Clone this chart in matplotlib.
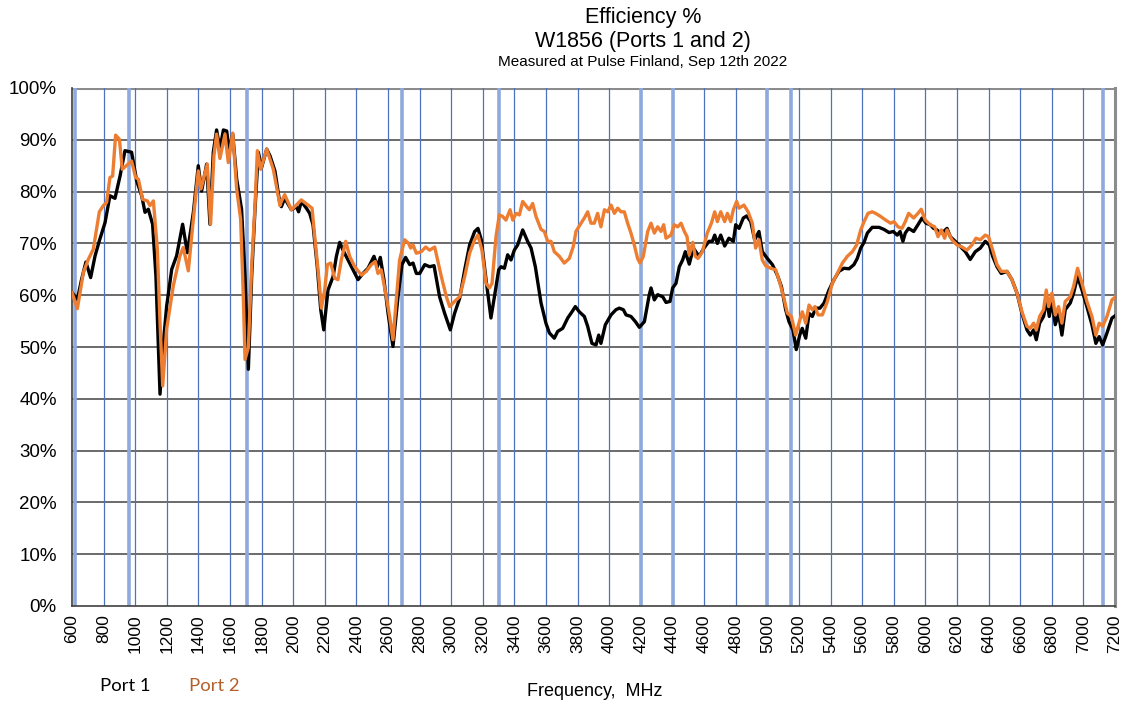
import matplotlib
matplotlib.use("Agg")
import matplotlib.pyplot as plt
import numpy as np

# ---- data ----
freq_port1 = [600, 634, 661, 688, 718, 746, 773, 809, 840, 872, 904, 935, 977, 1009, 1041, 1062, 1083, 1110,
              1131, 1157, 1178, 1199, 1231, 1262, 1300, 1330, 1368, 1399, 1420, 1452, 1473, 1494, 1515, 1536,
              1558, 1579, 1595, 1617, 1642, 1673, 1695, 1716, 1737, 1758, 1779, 1800, 1832, 1853, 1884, 1916,
              1925, 1946, 1988, 2020, 2034, 2051, 2083, 2104, 2125, 2152, 2174, 2193, 2220, 2252, 2273, 2294,
              2315, 2357, 2410, 2441, 2473, 2511, 2532, 2551, 2574, 2600, 2631, 2663, 2688, 2711, 2737, 2758,
              2779, 2800, 2832, 2863, 2891, 2926, 2958, 2994, 3021, 3053, 3085, 3116, 3148, 3169, 3190,
              3220, 3251, 3273, 3300, 3315, 3336, 3357, 3378, 3399, 3420, 3452, 3483, 3505, 3532, 3568, 3599,
              3621, 3652, 3673, 3705, 3737, 3764, 3785, 3810, 3842, 3863, 3890, 3916, 3933, 3947, 3975, 4011,
              4042, 4063, 4089, 4106, 4137, 4165, 4190, 4222, 4253, 4264, 4285, 4306, 4338, 4359, 4384, 4401,
              4422, 4443, 4464, 4481, 4506, 4532,
              4568, 4599, 4631, 4652, 4667, 4684, 4705, 4730, 4757, 4785, 4800, 4821, 4848, 4869, 4895, 4920,
              4947, 4968, 5000, 5032, 5063, 5089, 5116, 5137, 5162, 5183, 5205, 5221, 5243, 5264, 5285, 5306,
              5333, 5359, 5390, 5422, 5453, 5485, 5517, 5548, 5569, 5591, 5612, 5633, 5664, 5707, 5738, 5770,
              5797, 5822, 5840, 5858, 5873, 5894, 5926, 5953, 5979, 6004, 6031, 6052, 6073, 6095, 6116, 6137,
              6158, 6189, 6221, 6253, 6284, 6316, 6348, 6379, 6405, 6426, 6453, 6480, 6516, 6548, 6580, 6611,
              6643, 6664, 6685, 6702, 6723, 6748, 6769, 6784, 6801, 6822, 6843, 6864, 6885, 6917, 6938, 6963,
              6991, 7022, 7054, 7079, 7100, 7122, 7149, 7181, 7200]
eff_port1 = [60.5, 59.2, 63.1, 66.4, 63.4, 67.6, 70.5, 74.0, 79.2, 78.7, 83.0, 87.9, 87.6, 82.1, 79.2, 76.0, 76.6, 73.7,
             63.7, 40.9, 50.8, 57.9, 65.0, 67.6, 73.7, 68.2, 76.0, 85.0, 80.1, 85.3, 73.7, 87.6, 91.9, 88.2,
             91.9, 91.7, 87.6, 91.1, 82.4, 76.6, 63.7, 45.7, 63.7, 76.6, 87.6, 84.7, 88.2, 86.9, 84.0, 77.6,
             77.1, 78.7, 76.5, 77.1, 76.1, 78.1, 76.8, 75.8, 73.6, 65.5, 57.2, 53.3, 61.0, 63.6, 67.5, 70.2,
             68.7, 66.2, 63.0, 64.2, 65.2, 67.5, 65.5, 67.3, 63.0, 56.5, 50.1, 59.7, 65.9, 67.3, 65.9, 66.2,
             64.2, 64.2, 65.9, 65.5, 65.7, 59.7, 56.5, 53.3, 56.5, 59.4, 64.9, 69.7, 72.3, 72.9, 70.7,
             63.0, 55.6, 59.7, 64.9, 65.5, 65.2, 67.8, 66.8, 68.7, 69.7, 72.6, 70.4, 69.1, 65.5, 58.5, 54.6,
             52.7, 51.7, 53.0, 53.6, 55.6, 56.8, 57.8, 56.8, 55.9, 54.0, 50.7, 50.4, 52.3, 50.7, 54.3, 56.2,
             57.2, 57.5, 57.2, 56.2, 55.9, 54.9, 53.8, 54.9, 60.1, 61.4, 59.1, 60.1, 59.7, 58.6, 58.8, 61.4,
             62.3, 65.5, 66.8, 68.4, 66.0, 69.1,
             67.5, 69.1, 70.4, 70.4, 71.6, 70.0, 71.6, 69.5, 71.0, 70.4, 73.6, 72.9, 74.9, 75.3, 74.2, 70.7,
             72.3, 68.4, 67.1, 65.9, 63.9, 61.7, 57.2, 54.9, 53.3, 49.5, 52.3, 53.6, 51.7, 56.5, 55.9, 57.5,
             57.5, 58.5, 61.0, 63.0, 64.6, 65.2, 65.1, 65.9, 67.1, 69.1, 70.2, 72.0, 73.1, 73.1, 72.7, 72.1,
             72.3, 71.6, 72.3, 70.4, 72.0, 72.9, 72.3, 73.6, 74.9, 73.9, 73.6, 72.9, 72.6, 72.0, 72.3, 72.9,
             71.3, 70.4, 69.4, 68.4, 66.9, 68.4, 69.1, 70.4, 69.7, 67.5, 65.5, 64.2, 64.6, 63.0, 60.4, 56.5,
             53.3, 52.3, 53.3, 51.4, 54.6, 55.9, 59.1, 55.9, 58.8, 54.3, 56.5, 52.3, 57.2, 58.5, 60.4, 63.6,
             61.0, 57.8, 54.3, 50.7, 52.0, 50.4, 52.7, 55.6, 56.0]

freq_port2 = [600, 634, 672, 703, 735, 773, 798, 819, 840, 857, 876, 900, 918, 977, 1003, 1020, 1047, 1077, 1093,
              1115, 1140, 1157, 1174, 1199, 1241, 1283, 1304, 1336, 1368, 1399, 1416, 1456, 1477, 1498, 1515,
              1536, 1568, 1589, 1617, 1642, 1667, 1684, 1695, 1716, 1737, 1758, 1773, 1794, 1832, 1874, 1916,
              1925, 1946, 1988, 2020, 2051, 2094, 2119, 2136, 2161, 2178, 2199, 2216, 2237, 2262, 2283, 2304,
              2332, 2357, 2389, 2431, 2462, 2494, 2519, 2536, 2557, 2589, 2610, 2631, 2652, 2673, 2705, 2730,
              2743, 2758, 2779, 2810, 2838, 2863, 2895, 2937, 2969, 2990, 3021, 3053, 3085, 3116, 3148, 3169,
              3194,
              3220, 3241, 3258, 3283, 3304, 3325, 3346, 3372, 3389, 3410, 3431, 3452, 3477, 3494, 3515, 3536,
              3568, 3589, 3610, 3631, 3652, 3684, 3715, 3747, 3772, 3789, 3821, 3842, 3863, 3884, 3905, 3926,
              3947, 3969, 3990, 4011, 4032, 4053, 4074, 4095, 4116, 4137, 4158, 4179, 4194, 4215, 4243, 4264,
              4285, 4306, 4327, 4344, 4359, 4390, 4411, 4433, 4454, 4475, 4492, 4506, 4528, 4544, 4561,
              4589, 4620, 4646, 4667, 4684, 4705, 4730, 4747, 4768, 4785, 4806, 4821, 4852, 4878, 4905, 4926,
              4947, 4968, 4989, 5021, 5053, 5080, 5105, 5127, 5152, 5179, 5200, 5221, 5243, 5264, 5285, 5302,
              5321, 5348, 5380, 5411, 5443, 5475, 5506, 5538, 5565, 5591, 5612, 5637, 5664, 5685, 5717, 5749,
              5780, 5801, 5827, 5852, 5873, 5894, 5926, 5953, 5974, 5999, 6031, 6059, 6080, 6101, 6122, 6137,
              6168, 6200, 6232, 6263, 6295, 6320, 6348, 6379, 6400, 6426, 6453, 6480, 6516, 6548, 6580, 6611,
              6643, 6664, 6685, 6702, 6723, 6748, 6765, 6780, 6801, 6822, 6843, 6864, 6885, 6917, 6938, 6963,
              6991, 7022, 7054, 7079, 7100, 7122, 7149, 7181, 7200]
eff_port2 = [60.5, 57.4, 64.4, 66.9, 68.9, 76.1, 77.3, 77.9, 82.7, 83.0, 90.9, 90.1, 84.3, 85.9, 82.7, 82.4, 78.5, 78.2, 77.3,
             78.2, 68.9, 54.7, 42.5, 53.5, 61.8, 67.6, 69.2, 64.7, 74.7, 84.0, 80.5, 85.3, 73.7, 86.9, 91.1,
             86.4, 91.1, 85.6, 91.3, 80.5, 74.7, 59.9, 47.6, 49.9, 65.7, 77.3, 87.9, 84.3, 88.2, 84.3, 77.3,
             78.1, 79.4, 76.5, 77.4, 78.4, 77.4, 76.8, 71.3, 63.6, 57.5, 61.0, 65.9, 66.2, 63.3, 63.0, 66.8,
             70.4, 67.5, 65.5, 63.9, 64.6, 65.9, 66.5, 64.2, 64.9, 59.7, 55.9, 51.4, 59.1, 66.8, 70.7, 70.0,
             69.1, 69.7, 68.1, 68.4, 69.3, 68.7, 69.3, 63.6, 59.7, 57.8, 58.8, 59.7, 63.6, 68.1, 70.7, 71.6,
             68.7,
             62.3, 61.4, 62.3, 71.3, 75.5, 75.2, 74.5, 76.5, 74.5, 75.8, 75.5, 78.1, 77.1, 76.5, 77.7, 75.2,
             72.7, 72.3, 70.4, 70.4, 68.4, 67.5, 66.2, 67.1, 69.4, 72.3, 73.9, 74.9, 76.1, 73.9, 73.9, 75.8,
             73.2, 76.5, 76.1, 77.4, 75.8, 76.8, 76.1, 76.1, 73.9, 72.0, 69.7, 67.1, 66.2, 67.5, 72.3, 73.9,
             72.0, 73.2, 72.3, 73.6, 71.0, 71.6, 73.6, 73.2, 73.9, 72.3, 71.3, 67.8, 70.2, 67.5, 67.1,
             68.4, 72.0, 73.9, 76.1, 74.2, 76.1, 74.2, 75.8, 74.2, 76.5, 78.1, 76.8, 77.4, 76.1, 73.9, 69.1,
             70.7, 66.8, 65.7, 65.2, 64.9, 62.3, 59.4, 56.5, 55.9, 52.3, 54.6, 56.8, 54.6, 58.1, 57.2, 57.8,
             56.2, 56.2, 58.8, 62.3, 64.2, 66.2, 67.5, 68.4, 69.7, 72.6, 74.2, 75.8, 76.1, 75.8, 75.2, 74.5,
             73.9, 74.2, 73.2, 72.9, 74.2, 75.8, 74.9, 75.8, 76.6, 74.5, 73.6, 73.2, 71.3, 72.6, 71.0, 72.6,
             70.7, 69.7, 69.3, 68.7, 69.7, 71.0, 70.7, 71.6, 71.3, 68.7, 65.9, 64.6, 64.6, 63.0, 60.4, 56.8,
             54.0, 53.6, 54.6, 53.3, 55.9, 57.2, 61.0, 57.8, 60.4, 56.2, 57.8, 54.6, 58.8, 59.7, 61.7, 65.2,
             62.3, 58.8, 55.9, 52.3, 54.6, 54.0, 55.9, 59.1, 59.6]

band_edges = [617, 960, 1710, 2690, 3300, 4200, 4400, 5000, 5150, 7125]
x_ticks = list(range(600, 7201, 200))
y_ticks = list(range(0, 101, 10))

title_lines = ["Efficiency %", "W1856 (Ports 1 and 2)", "Measured at Pulse Finland, Sep 12th 2022"]

# ---- drawing ----
plt.rcParams['font.family'] = ['Liberation Sans', 'DejaVu Sans']
fig = plt.figure(figsize=(11.23, 7.08), dpi=100)
ax = fig.add_axes([72/1123, 1 - 606/708, (1115 - 72)/1123, (606 - 88)/708])

ax.set_xlim(600, 7200)
ax.set_ylim(0, 100)
ax.set_xticks(x_ticks)
ax.set_xticklabels([str(t) for t in x_ticks], rotation=90, fontsize=12.5)
ax.set_yticks(y_ticks)
ax.set_yticklabels([f"{t}%" for t in y_ticks], fontsize=13.5)
ax.tick_params(axis='x', length=0, pad=6)
ax.tick_params(axis='y', length=0, pad=11)

# grid
for t in y_ticks[1:]:
    ax.axhline(t, color='#5f5f5f' if t < 100 else '#8c8c8c', lw=1.3 if t < 100 else 2.2, zorder=1)
for t in x_ticks[1:-1]:
    ax.axvline(t, color='#4d72be', lw=0.9, zorder=1)
for b in band_edges:
    ax.axvline(b, color='#8eaadc', lw=2.6, zorder=1.5)

ax.spines['top'].set_visible(False)
ax.spines['right'].set_color('#8c8c8c')
ax.spines['right'].set_linewidth(2.2)
ax.spines['left'].set_color('#404040')
ax.spines['left'].set_linewidth(1.2)
ax.spines['bottom'].set_color('#404040')
ax.spines['bottom'].set_linewidth(1.2)

ax.plot(freq_port1, eff_port1, color='#000000', lw=2.4, zorder=3, solid_joinstyle='round')
ax.plot(freq_port2, eff_port2, color='#ED7D31', lw=2.4, zorder=4, solid_joinstyle='round')

# titles
fig.text(643/1123, 1 - 17/708, title_lines[0], ha='center', va='center', fontsize=15.5)
fig.text(643/1123, 1 - 41/708, title_lines[1], ha='center', va='center', fontsize=15.5)
fig.text(643/1123, 1 - 62/708, title_lines[2], ha='center', va='center', fontsize=11)

fig.text(595/1123, 1 - 692/708, "Frequency,  MHz", ha='center', va='center', fontsize=13)
fig.text(125/1123, 1 - 686/708, "Port 1", ha='center', va='center', fontsize=13.3,
         family=['Lato', 'DejaVu Sans'], color='#000000')
fig.text(214/1123, 1 - 686/708, "Port 2", ha='center', va='center', fontsize=13.3,
         family=['Lato', 'DejaVu Sans'], color='#B5602A')

fig.savefig("out.png", dpi=100)
